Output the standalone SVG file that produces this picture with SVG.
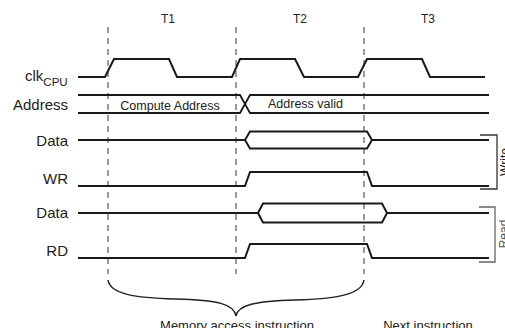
<svg xmlns="http://www.w3.org/2000/svg" width="505" height="328" viewBox="0 0 505 328">
<style>
text{font-family:"Liberation Sans",Arial,sans-serif;fill:#222}
.lbl{font-size:15px;text-anchor:end}
.t{font-size:12px;text-anchor:middle}
.in{font-size:12.5px}
.wave{fill:none;stroke:#1a1a1a;stroke-width:2;stroke-linejoin:miter}
.bus{fill:none;stroke:#1a1a1a;stroke-width:1.8}
.dash{stroke:#7a7a7a;stroke-width:1.5;stroke-dasharray:6,5}
.brk{fill:none;stroke:#333;stroke-width:1.3}
</style>
<rect width="505" height="328" fill="#fff"/>
<g id="grid">
<line class="dash" x1="108" y1="27" x2="108" y2="274"/>
<line class="dash" x1="236" y1="27" x2="236" y2="274"/>
<line class="dash" x1="364" y1="27" x2="364" y2="274"/>
<text class="t" x="168" y="23">T1</text>
<text class="t" x="300" y="23">T2</text>
<text class="t" x="428" y="23">T3</text>
</g>
<g id="clk">
<text x="25" y="81" style="font-size:15px">clk<tspan dy="5" style="font-size:11.5px">CPU</tspan></text>
<polyline class="wave" points="78,77 105,77 114,59 169,59 177,77 232,77 240,59 295,59 304,77 358,77 367,59 422,59 430,77 485,77"/>
</g>
<g id="address">
<text class="lbl" x="68" y="110">Address</text>
<polyline class="bus" points="78,95 240,95 250,113 489,113"/>
<polyline class="bus" points="78,113 240,113 250,95 489,95"/>
<text class="in" x="170" y="110" text-anchor="middle">Compute Address</text>
<text class="in" x="268" y="108">Address valid</text>
</g>
<g id="data-write">
<text class="lbl" x="68" y="146">Data</text>
<polyline class="wave" points="78,140 245,140 250,131.5 367,131.5 372,140 489,140"/>
<polyline class="wave" points="245,140 250,148.5 367,148.5 372,140"/>
</g>
<g id="wr">
<text class="lbl" x="68" y="184">WR</text>
<polyline class="wave" points="78,186 245,186 250,172 367,172 372,186 489,186"/>
</g>
<g id="data-read">
<text class="lbl" x="68" y="218">Data</text>
<polyline class="wave" points="78,213 258,213 263,203.5 382,203.5 387,213 489,213"/>
<polyline class="wave" points="258,213 263,222.5 382,222.5 387,213"/>
</g>
<g id="rd">
<text class="lbl" x="68" y="256">RD</text>
<polyline class="wave" points="78,258 245,258 250,244 367,244 372,258 489,258"/>
</g>
<g id="write-bracket">
<polyline class="brk" points="480,135 497,135 497,189 480,189"/>
<text x="509" y="162" transform="rotate(-90 509 162)" style="font-size:12px;text-anchor:middle">Write</text>
</g>
<g id="read-bracket">
<polyline class="brk" style="stroke:#666" points="479,207 495,207 495,262 479,262"/>
<text x="508" y="234" transform="rotate(-90 508 234)" style="font-size:12px;text-anchor:middle;fill:#555">Read</text>
</g>
<g id="brace">
<path fill="none" stroke="#222" stroke-width="1.5" d="M108,280 C110,294 135,298 175,299 C218,300 234,304 236,316 C238,305 255,301 295,300 C338,299 362,294 364,280"/>
<text x="237" y="330" style="font-size:13px;text-anchor:middle">Memory access instruction</text>
<text x="428" y="330" style="font-size:13px;text-anchor:middle">Next instruction</text>
</g>
</svg>
